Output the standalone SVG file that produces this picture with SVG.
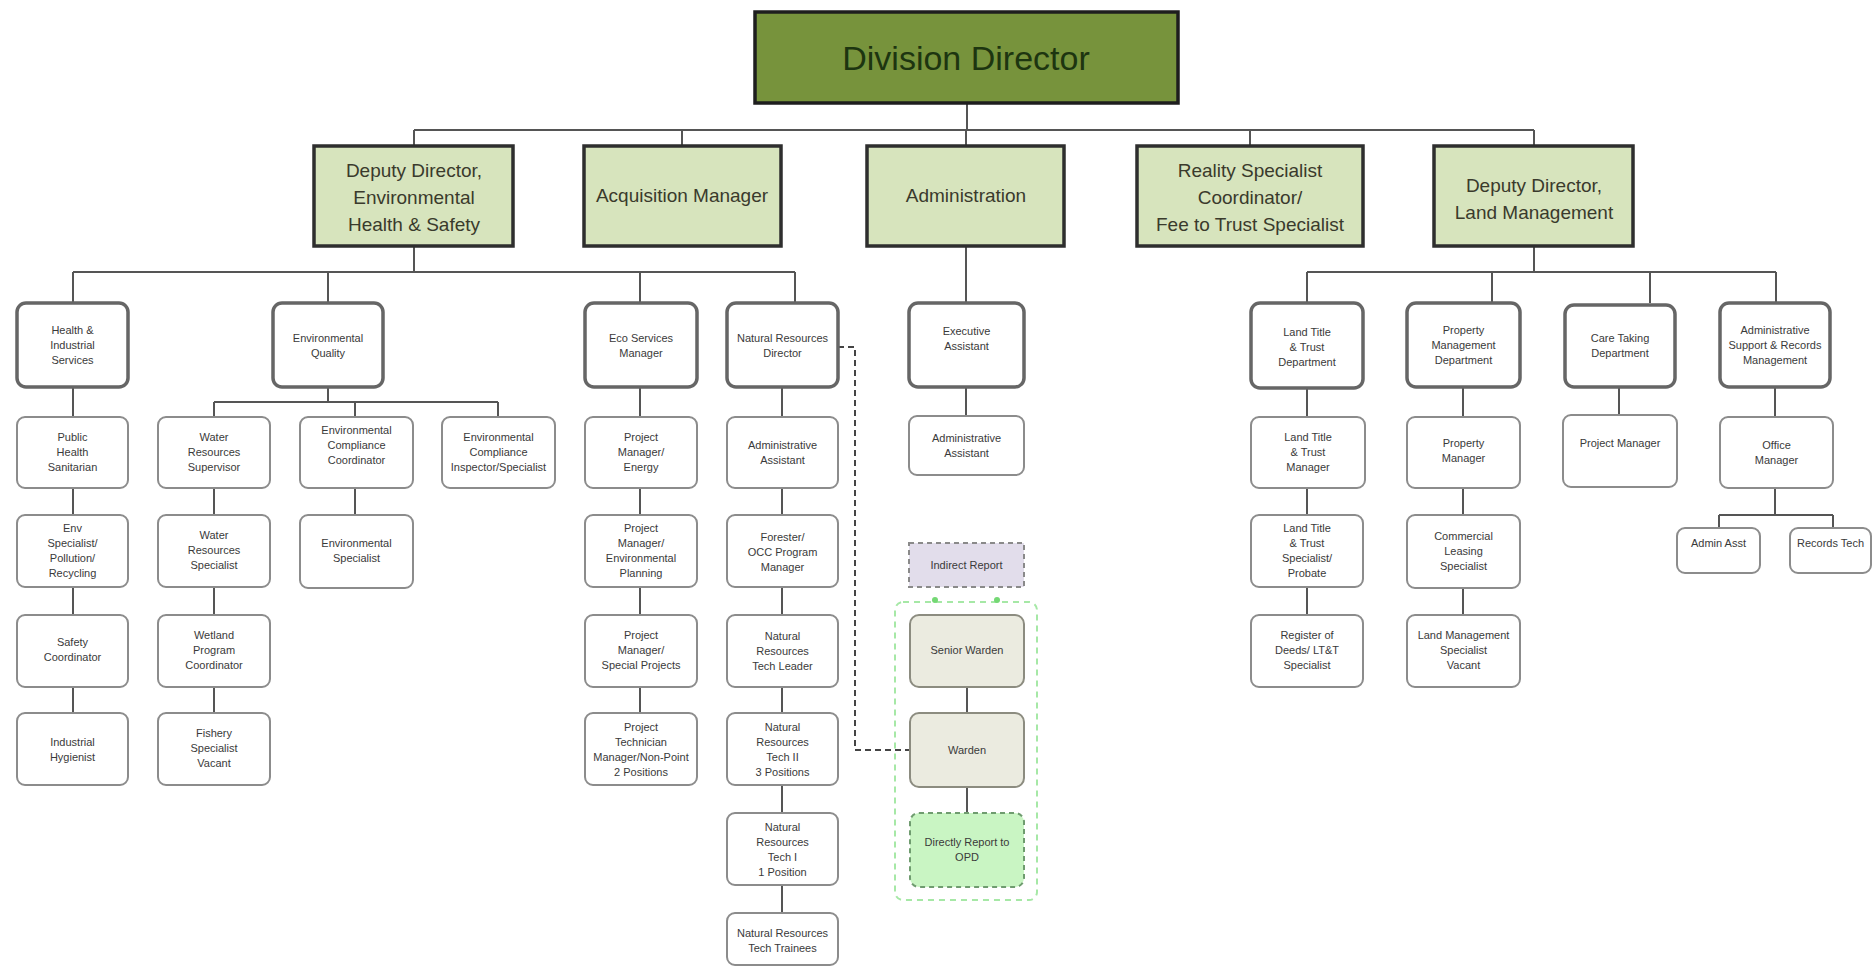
<svg xmlns="http://www.w3.org/2000/svg" width="1873" height="969" viewBox="0 0 1873 969">
<style>
.bg{fill:#ffffff}
.dd{fill:#77933c;stroke:#1e1e1e;stroke-width:3.5}
.l1{fill:#d7e4bd;stroke:#2e2e2e;stroke-width:3.5}
.dept{fill:#ffffff;stroke:#666666;stroke-width:3.5}
.pos{fill:#ffffff;stroke:#8c8c8c;stroke-width:2}
.ward{fill:#ebebe0;stroke:#8c8c80;stroke-width:2}
.ind{fill:#e2ddeb;stroke:#8a8a8a;stroke-width:2;stroke-dasharray:5 4}
.opd{fill:#c9f5c3;stroke:#6f9c6f;stroke-width:2;stroke-dasharray:5 4}
.grp{fill:none;stroke:#a6e8a6;stroke-width:2;stroke-dasharray:6 5}
.conn line,.conn polyline{stroke:#555555;stroke-width:2;fill:none}
.conn .dash{stroke:#444444;stroke-width:2;stroke-dasharray:6 4;fill:none}
text{font-family:"Liberation Sans",Arial,sans-serif;text-anchor:middle}
.t{font-size:11px;fill:#3a3a3a}
.t1{font-size:19px;fill:#3a3a2c}
.tdd{font-size:34px;fill:#1d3510}
.dot{fill:#74d874}
</style>
<rect class="bg" x="0" y="0" width="1873" height="969"/>

<g id="connectors" class="conn">
  <line x1="967" y1="103" x2="967" y2="130"/>
  <line x1="414" y1="130" x2="1534" y2="130"/>
  <line x1="414" y1="130" x2="414" y2="146"/>
  <line x1="682" y1="130" x2="682" y2="146"/>
  <line x1="966" y1="130" x2="966" y2="146"/>
  <line x1="1250" y1="130" x2="1250" y2="146"/>
  <line x1="1534" y1="130" x2="1534" y2="146"/>
  <!-- EHS -->
  <line x1="414" y1="246" x2="414" y2="272"/>
  <line x1="73" y1="272" x2="795" y2="272"/>
  <line x1="73" y1="272" x2="73" y2="303"/>
  <line x1="328" y1="272" x2="328" y2="303"/>
  <line x1="640" y1="272" x2="640" y2="303"/>
  <line x1="795" y1="272" x2="795" y2="303"/>
  <line x1="73" y1="387" x2="73" y2="417"/>
  <line x1="73" y1="488" x2="73" y2="515"/>
  <line x1="73" y1="587" x2="73" y2="615"/>
  <line x1="73" y1="687" x2="73" y2="713"/>
  <line x1="328" y1="387" x2="328" y2="402"/>
  <line x1="214" y1="402" x2="498" y2="402"/>
  <line x1="214" y1="402" x2="214" y2="417"/>
  <line x1="355" y1="402" x2="355" y2="417"/>
  <line x1="498" y1="402" x2="498" y2="417"/>
  <line x1="214" y1="488" x2="214" y2="515"/>
  <line x1="214" y1="587" x2="214" y2="615"/>
  <line x1="214" y1="687" x2="214" y2="713"/>
  <line x1="355" y1="488" x2="355" y2="515"/>
  <line x1="640" y1="387" x2="640" y2="417"/>
  <line x1="640" y1="488" x2="640" y2="515"/>
  <line x1="640" y1="587" x2="640" y2="615"/>
  <line x1="640" y1="687" x2="640" y2="713"/>
  <line x1="782" y1="387" x2="782" y2="417"/>
  <line x1="782" y1="488" x2="782" y2="515"/>
  <line x1="782" y1="587" x2="782" y2="615"/>
  <line x1="782" y1="687" x2="782" y2="713"/>
  <line x1="782" y1="785" x2="782" y2="813"/>
  <line x1="782" y1="885" x2="782" y2="913"/>
  <polyline class="dash" points="838,347 855,347 855,750 910,750"/>
  <!-- Administration -->
  <line x1="966" y1="246" x2="966" y2="303"/>
  <line x1="966" y1="387" x2="966" y2="416"/>
  <line x1="967" y1="687" x2="967" y2="713"/>
  <line x1="967" y1="787" x2="967" y2="813"/>
  <!-- Land management -->
  <line x1="1534" y1="246" x2="1534" y2="272"/>
  <line x1="1307" y1="272" x2="1776" y2="272"/>
  <line x1="1307" y1="272" x2="1307" y2="303"/>
  <line x1="1492" y1="272" x2="1492" y2="303"/>
  <line x1="1650" y1="272" x2="1650" y2="303"/>
  <line x1="1776" y1="272" x2="1776" y2="303"/>
  <line x1="1307" y1="388" x2="1307" y2="417"/>
  <line x1="1307" y1="488" x2="1307" y2="515"/>
  <line x1="1307" y1="587" x2="1307" y2="615"/>
  <line x1="1463" y1="387" x2="1463" y2="417"/>
  <line x1="1463" y1="488" x2="1463" y2="515"/>
  <line x1="1463" y1="587" x2="1463" y2="615"/>
  <line x1="1619" y1="387" x2="1619" y2="415"/>
  <line x1="1775" y1="387" x2="1775" y2="417"/>
  <line x1="1775" y1="488" x2="1775" y2="515"/>
  <line x1="1719" y1="515" x2="1833" y2="515"/>
  <line x1="1719" y1="515" x2="1719" y2="528"/>
  <line x1="1833" y1="515" x2="1833" y2="528"/>
</g>

<g id="division-director">
  <rect class="dd" x="755" y="12" width="423" height="91"/>
  <text class="tdd" x="966" y="70">Division Director</text>
</g>

<g id="deputy-ehs">
  <rect class="l1" x="314" y="146" width="199" height="100"/>
  <text class="t1" x="414"><tspan x="414" y="177">Deputy Director,</tspan><tspan x="414" y="204">Environmental</tspan><tspan x="414" y="231">Health &amp; Safety</tspan></text>
</g>
<g id="acquisition-manager">
  <rect class="l1" x="584" y="146" width="197" height="100"/>
  <text class="t1" x="682" y="202">Acquisition Manager</text>
</g>
<g id="administration">
  <rect class="l1" x="867" y="146" width="197" height="100"/>
  <text class="t1" x="966" y="202">Administration</text>
</g>
<g id="reality-specialist">
  <rect class="l1" x="1137" y="146" width="226" height="100"/>
  <text class="t1" x="1250"><tspan x="1250" y="177">Reality Specialist</tspan><tspan x="1250" y="204">Coordinator/</tspan><tspan x="1250" y="231">Fee to Trust Specialist</tspan></text>
</g>
<g id="deputy-land">
  <rect class="l1" x="1434" y="146" width="199" height="100"/>
  <text class="t1" x="1534"><tspan x="1534" y="192">Deputy Director,</tspan><tspan x="1534" y="219">Land Management</tspan></text>
</g>

<!-- Health & Industrial column -->
<g id="health-industrial">
  <rect class="dept" x="17" y="303" width="111" height="84" rx="9"/>
  <text class="t"><tspan x="72.5" y="334">Health &amp;</tspan><tspan x="72.5" y="349">Industrial</tspan><tspan x="72.5" y="364">Services</tspan></text>
</g>
<g id="public-health">
  <rect class="pos" x="17" y="417" width="111" height="71" rx="8"/>
  <text class="t"><tspan x="72.5" y="441">Public</tspan><tspan x="72.5" y="456">Health</tspan><tspan x="72.5" y="471">Sanitarian</tspan></text>
</g>
<g id="env-specialist-pollution">
  <rect class="pos" x="17" y="515" width="111" height="72" rx="8"/>
  <text class="t"><tspan x="72.5" y="532">Env</tspan><tspan x="72.5" y="547">Specialist/</tspan><tspan x="72.5" y="562">Pollution/</tspan><tspan x="72.5" y="577">Recycling</tspan></text>
</g>
<g id="safety-coordinator">
  <rect class="pos" x="17" y="615" width="111" height="72" rx="8"/>
  <text class="t"><tspan x="72.5" y="646">Safety</tspan><tspan x="72.5" y="661">Coordinator</tspan></text>
</g>
<g id="industrial-hygienist">
  <rect class="pos" x="17" y="713" width="111" height="72" rx="8"/>
  <text class="t"><tspan x="72.5" y="746">Industrial</tspan><tspan x="72.5" y="761">Hygienist</tspan></text>
</g>

<!-- Environmental Quality -->
<g id="environmental-quality">
  <rect class="dept" x="273" y="303" width="110" height="84" rx="9"/>
  <text class="t"><tspan x="328" y="342">Environmental</tspan><tspan x="328" y="357">Quality</tspan></text>
</g>
<g id="water-supervisor">
  <rect class="pos" x="158" y="417" width="112" height="71" rx="8"/>
  <text class="t"><tspan x="214" y="441">Water</tspan><tspan x="214" y="456">Resources</tspan><tspan x="214" y="471">Supervisor</tspan></text>
</g>
<g id="water-specialist">
  <rect class="pos" x="158" y="515" width="112" height="72" rx="8"/>
  <text class="t"><tspan x="214" y="539">Water</tspan><tspan x="214" y="554">Resources</tspan><tspan x="214" y="569">Specialist</tspan></text>
</g>
<g id="wetland-coordinator">
  <rect class="pos" x="158" y="615" width="112" height="72" rx="8"/>
  <text class="t"><tspan x="214" y="639">Wetland</tspan><tspan x="214" y="654">Program</tspan><tspan x="214" y="669">Coordinator</tspan></text>
</g>
<g id="fishery-specialist">
  <rect class="pos" x="158" y="713" width="112" height="72" rx="8"/>
  <text class="t"><tspan x="214" y="737">Fishery</tspan><tspan x="214" y="752">Specialist</tspan><tspan x="214" y="767">Vacant</tspan></text>
</g>
<g id="env-compliance-coordinator">
  <rect class="pos" x="300" y="417" width="113" height="71" rx="8"/>
  <text class="t"><tspan x="356.5" y="434">Environmental</tspan><tspan x="356.5" y="449">Compliance</tspan><tspan x="356.5" y="464">Coordinator</tspan></text>
</g>
<g id="environmental-specialist">
  <rect class="pos" x="300" y="515" width="113" height="73" rx="8"/>
  <text class="t"><tspan x="356.5" y="547">Environmental</tspan><tspan x="356.5" y="562">Specialist</tspan></text>
</g>
<g id="env-compliance-inspector">
  <rect class="pos" x="442" y="417" width="113" height="71" rx="8"/>
  <text class="t"><tspan x="498.5" y="441">Environmental</tspan><tspan x="498.5" y="456">Compliance</tspan><tspan x="498.5" y="471">Inspector/Specialist</tspan></text>
</g>

<!-- Eco Services -->
<g id="eco-services-manager">
  <rect class="dept" x="585" y="303" width="112" height="84" rx="9"/>
  <text class="t"><tspan x="641" y="342">Eco Services</tspan><tspan x="641" y="357">Manager</tspan></text>
</g>
<g id="pm-energy">
  <rect class="pos" x="585" y="417" width="112" height="71" rx="8"/>
  <text class="t"><tspan x="641" y="441">Project</tspan><tspan x="641" y="456">Manager/</tspan><tspan x="641" y="471">Energy</tspan></text>
</g>
<g id="pm-environmental-planning">
  <rect class="pos" x="585" y="515" width="112" height="72" rx="8"/>
  <text class="t"><tspan x="641" y="532">Project</tspan><tspan x="641" y="547">Manager/</tspan><tspan x="641" y="562">Environmental</tspan><tspan x="641" y="577">Planning</tspan></text>
</g>
<g id="pm-special-projects">
  <rect class="pos" x="585" y="615" width="112" height="72" rx="8"/>
  <text class="t"><tspan x="641" y="639">Project</tspan><tspan x="641" y="654">Manager/</tspan><tspan x="641" y="669">Special Projects</tspan></text>
</g>
<g id="project-technician">
  <rect class="pos" x="585" y="713" width="112" height="72" rx="8"/>
  <text class="t"><tspan x="641" y="731">Project</tspan><tspan x="641" y="746">Technician</tspan><tspan x="641" y="761">Manager/Non-Point</tspan><tspan x="641" y="776">2 Positions</tspan></text>
</g>

<!-- Natural Resources -->
<g id="natural-resources-director">
  <rect class="dept" x="727" y="303" width="111" height="84" rx="9"/>
  <text class="t"><tspan x="782.5" y="342">Natural Resources</tspan><tspan x="782.5" y="357">Director</tspan></text>
</g>
<g id="nr-admin-assistant">
  <rect class="pos" x="727" y="417" width="111" height="71" rx="8"/>
  <text class="t"><tspan x="782.5" y="449">Administrative</tspan><tspan x="782.5" y="464">Assistant</tspan></text>
</g>
<g id="forester">
  <rect class="pos" x="727" y="515" width="111" height="72" rx="8"/>
  <text class="t"><tspan x="782.5" y="541">Forester/</tspan><tspan x="782.5" y="556">OCC Program</tspan><tspan x="782.5" y="571">Manager</tspan></text>
</g>
<g id="nr-tech-leader">
  <rect class="pos" x="727" y="615" width="111" height="72" rx="8"/>
  <text class="t"><tspan x="782.5" y="640">Natural</tspan><tspan x="782.5" y="655">Resources</tspan><tspan x="782.5" y="670">Tech Leader</tspan></text>
</g>
<g id="nr-tech-2">
  <rect class="pos" x="727" y="713" width="111" height="72" rx="8"/>
  <text class="t"><tspan x="782.5" y="731">Natural</tspan><tspan x="782.5" y="746">Resources</tspan><tspan x="782.5" y="761">Tech II</tspan><tspan x="782.5" y="776">3 Positions</tspan></text>
</g>
<g id="nr-tech-1">
  <rect class="pos" x="727" y="813" width="111" height="72" rx="8"/>
  <text class="t"><tspan x="782.5" y="831">Natural</tspan><tspan x="782.5" y="846">Resources</tspan><tspan x="782.5" y="861">Tech I</tspan><tspan x="782.5" y="876">1 Position</tspan></text>
</g>
<g id="nr-tech-trainees">
  <rect class="pos" x="727" y="913" width="111" height="52" rx="8"/>
  <text class="t"><tspan x="782.5" y="937">Natural Resources</tspan><tspan x="782.5" y="952">Tech Trainees</tspan></text>
</g>

<!-- Administration column -->
<g id="executive-assistant">
  <rect class="dept" x="909" y="303" width="115" height="84" rx="9"/>
  <text class="t"><tspan x="966.5" y="335">Executive</tspan><tspan x="966.5" y="350">Assistant</tspan></text>
</g>
<g id="administrative-assistant">
  <rect class="pos" x="909" y="416" width="115" height="59" rx="8"/>
  <text class="t"><tspan x="966.5" y="442">Administrative</tspan><tspan x="966.5" y="457">Assistant</tspan></text>
</g>
<g id="indirect-report">
  <rect class="ind" x="909" y="543" width="115" height="44"/>
  <text class="t" x="966.5" y="569">Indirect Report</text>
</g>
<g id="warden-group">
  <rect class="grp" x="895" y="602" width="142" height="298" rx="8"/>
  <circle class="dot" cx="935" cy="600" r="3"/>
  <circle class="dot" cx="997" cy="600" r="3"/>
</g>
<g id="senior-warden">
  <rect class="ward" x="910" y="615" width="114" height="72" rx="9"/>
  <text class="t" x="967" y="654">Senior Warden</text>
</g>
<g id="warden">
  <rect class="ward" x="910" y="713" width="114" height="74" rx="9"/>
  <text class="t" x="967" y="754">Warden</text>
</g>
<g id="directly-report-opd">
  <rect class="opd" x="910" y="813" width="114" height="74" rx="9"/>
  <text class="t"><tspan x="967" y="846">Directly Report to</tspan><tspan x="967" y="861">OPD</tspan></text>
</g>

<!-- Land Management -->
<g id="ltt-department">
  <rect class="dept" x="1251" y="303" width="112" height="85" rx="9"/>
  <text class="t"><tspan x="1307" y="336">Land Title</tspan><tspan x="1307" y="351">&amp; Trust</tspan><tspan x="1307" y="366">Department</tspan></text>
</g>
<g id="ltt-manager">
  <rect class="pos" x="1251" y="417" width="114" height="71" rx="8"/>
  <text class="t"><tspan x="1308" y="441">Land Title</tspan><tspan x="1308" y="456">&amp; Trust</tspan><tspan x="1308" y="471">Manager</tspan></text>
</g>
<g id="ltt-specialist">
  <rect class="pos" x="1251" y="515" width="112" height="72" rx="8"/>
  <text class="t"><tspan x="1307" y="532">Land Title</tspan><tspan x="1307" y="547">&amp; Trust</tspan><tspan x="1307" y="562">Specialist/</tspan><tspan x="1307" y="577">Probate</tspan></text>
</g>
<g id="register-of-deeds">
  <rect class="pos" x="1251" y="615" width="112" height="72" rx="8"/>
  <text class="t"><tspan x="1307" y="639">Register of</tspan><tspan x="1307" y="654">Deeds/ LT&amp;T</tspan><tspan x="1307" y="669">Specialist</tspan></text>
</g>
<g id="pm-department">
  <rect class="dept" x="1407" y="303" width="113" height="84" rx="9"/>
  <text class="t"><tspan x="1463.5" y="334">Property</tspan><tspan x="1463.5" y="349">Management</tspan><tspan x="1463.5" y="364">Department</tspan></text>
</g>
<g id="property-manager">
  <rect class="pos" x="1407" y="417" width="113" height="71" rx="8"/>
  <text class="t"><tspan x="1463.5" y="447">Property</tspan><tspan x="1463.5" y="462">Manager</tspan></text>
</g>
<g id="commercial-leasing">
  <rect class="pos" x="1407" y="515" width="113" height="73" rx="8"/>
  <text class="t"><tspan x="1463.5" y="540">Commercial</tspan><tspan x="1463.5" y="555">Leasing</tspan><tspan x="1463.5" y="570">Specialist</tspan></text>
</g>
<g id="land-mgmt-specialist">
  <rect class="pos" x="1407" y="615" width="113" height="72" rx="8"/>
  <text class="t"><tspan x="1463.5" y="639">Land Management</tspan><tspan x="1463.5" y="654">Specialist</tspan><tspan x="1463.5" y="669">Vacant</tspan></text>
</g>
<g id="care-taking">
  <rect class="dept" x="1565" y="305" width="110" height="82" rx="9"/>
  <text class="t"><tspan x="1620" y="342">Care Taking</tspan><tspan x="1620" y="357">Department</tspan></text>
</g>
<g id="project-manager">
  <rect class="pos" x="1563" y="415" width="114" height="72" rx="8"/>
  <text class="t" x="1620" y="447">Project Manager</text>
</g>
<g id="admin-support-records">
  <rect class="dept" x="1720" y="303" width="110" height="84" rx="9"/>
  <text class="t"><tspan x="1775" y="334">Administrative</tspan><tspan x="1775" y="349">Support &amp; Records</tspan><tspan x="1775" y="364">Management</tspan></text>
</g>
<g id="office-manager">
  <rect class="pos" x="1720" y="417" width="113" height="71" rx="8"/>
  <text class="t"><tspan x="1776.5" y="449">Office</tspan><tspan x="1776.5" y="464">Manager</tspan></text>
</g>
<g id="admin-asst">
  <rect class="pos" x="1677" y="528" width="83" height="45" rx="8"/>
  <text class="t" x="1718.5" y="547">Admin Asst</text>
</g>
<g id="records-tech">
  <rect class="pos" x="1790" y="528" width="81" height="45" rx="8"/>
  <text class="t" x="1830.5" y="547">Records Tech</text>
</g>
</svg>
